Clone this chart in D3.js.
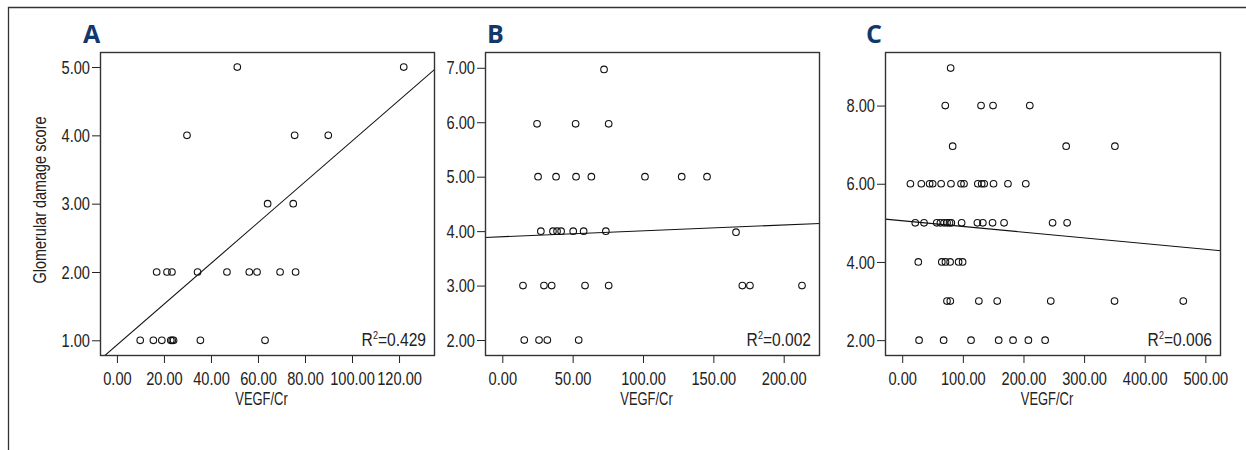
<!DOCTYPE html>
<html>
<head>
<meta charset="utf-8">
<script src="https://cdn.jsdelivr.net/npm/d3@7"></script>
<style>
  body { margin: 0; background: #fff; }
  svg { display: block; }
  .lbl, .tick text { font-family: 'Liberation Sans', Arial, sans-serif; font-size: 19px; fill: #222; }
  .letter { font-family: 'Open Sans', 'Liberation Sans', sans-serif; font-weight: 700; font-size: 25px; fill: #12386b; }
</style>
</head>
<body>
<svg width="1246" height="450"></svg>
<script>
/*eslint no-undef: 0*/

// panel A
const vegfA = [51.2, 122.0, 29.8, 75.6, 89.9, 64.1, 75.0,
  16.9, 21.3, 23.4, 34.3, 46.8, 56.3, 59.6, 69.4, 76.0,
  9.9, 15.5, 19.1, 22.9, 23.5, 24.1, 35.5, 63.0]
const scoreA = [5, 5, 4, 4, 4, 3, 3,
  2, 2, 2, 2, 2, 2, 2, 2, 2,
  1, 1, 1, 1, 1, 1, 1, 1]
const fitA = [0.931, 0.02985] // intercept, slope
const xTicksA = [0, 20, 40, 60, 80, 100, 120]
const yTicksA = [1, 2, 3, 4, 5]
const xDomainA = [-7.2, 135.3]
const yDomainA = [0.785, 5.22]

// panel B
const vegfB = [72.3, 24.7, 52.1, 75.6,
  25.4, 38.2, 52.4, 63.3, 101.4, 127.5, 145.5,
  27.4, 36.0, 38.9, 41.8, 50.4, 57.8, 73.6, 166.1,
  14.7, 29.6, 35.1, 58.8, 75.6, 170.6, 176.0, 213.0,
  15.6, 26.1, 32.0, 54.3]
const scoreB = [6.97, 5.97, 5.97, 5.97,
  5, 5, 5, 5, 5, 5, 5,
  4, 4, 4, 4, 4, 4, 4, 3.98,
  3, 3, 3, 3, 3, 3, 3, 3,
  2, 2, 2, 2]
const fitB = [3.897, 0.00108]
const xTicksB = [0, 50, 100, 150, 200]
const yTicksB = [2, 3, 4, 5, 6, 7]
const xDomainB = [-12.3, 225.8]
const yDomainB = [1.725, 7.29]

// panel C
const vegfC = [79.9,
  71.0, 130.0, 149.8, 210.4,
  83.2, 270.4, 350.8,
  13.5, 31.5, 45.2, 50.2, 64.2, 80.4, 97.0, 101.9, 124.7, 131.1, 135.2, 150.6, 174.4, 203.8,
  21.5, 36.0, 57.0, 63.0, 69.0, 74.0, 78.0, 81.0, 98.0, 124.0, 133.0, 149.0, 168.0, 248.0, 272.0,
  26.5, 65.3, 71.3, 79.0, 93.0, 99.6,
  73.8, 79.3, 126.4, 156.7, 245.0, 350.2, 463.6,
  27.8, 68.3, 113.5, 159.1, 182.8, 208.1, 235.7]
const scoreC = [8.96,
  8, 8, 8, 8,
  6.96, 6.96, 6.96,
  6, 6, 6, 6, 6, 6, 6, 6, 6, 6, 6, 6, 6, 6,
  5, 5, 5, 5, 5, 5, 5, 5, 5, 5, 5, 5, 5, 5, 5,
  4, 4, 4, 4, 4, 4,
  3, 3, 3, 3, 3, 3, 3,
  2, 2, 2, 2, 2, 2, 2]
const fitC = [5.055, -0.001462]
const xTicksC = [0, 100, 200, 300, 400, 500]
const yTicksC = [2, 4, 6, 8]
const xDomainC = [-28.4, 525.8]
const yDomainC = [1.62, 9.37]

const r2Labels = ['0.429', '0.002', '0.006']
const letters = ['A', 'B', 'C']

const svg = d3.select('svg')
const fmt = d3.format('.2f')
const boxTop = 52
const boxBottom = 355

// the original uses a condensed face, so squeeze the glyphs horizontally
function squeeze (sel, factor) {
  sel.each(function () {
    const w = this.getComputedTextLength()
    d3.select(this)
      .attr('textLength', w * factor)
      .attr('lengthAdjust', 'spacingAndGlyphs')
  })
}

// outer frame (top and left edges only)
svg.append('path')
  .attr('d', 'M8.5,450V7.5H1246')
  .attr('fill', 'none')
  .attr('stroke', '#333')
  .attr('stroke-width', 1.3)

function drawPanel (i, left, right, letterX, xs, ys, fit, xTicks, yTicks, xDomain, yDomain) {
  const width = right - left
  const height = boxBottom - boxTop
  const g = svg.append('g').attr('transform', 'translate(' + left + ',' + boxTop + ')')

  const x = d3.scaleLinear().domain(xDomain).range([0, width])
  const y = d3.scaleLinear().domain(yDomain).range([height, 0])

  const xAxis = g.append('g')
    .attr('transform', 'translate(0,' + height + ')')
    .call(d3.axisBottom(x).tickValues(xTicks).tickFormat(fmt).tickSize(8).tickPadding(9).tickSizeOuter(0))
  xAxis.select('.domain').remove()

  const yAxis = g.append('g')
    .call(d3.axisLeft(y).tickValues(yTicks).tickFormat(fmt).tickSize(8).tickPadding(2).tickSizeOuter(0))
  yAxis.select('.domain').remove()

  g.selectAll('.tick line').attr('stroke', '#222')
  squeeze(g.selectAll('.tick text'), 0.77)

  const clipId = 'clip' + i
  g.append('clipPath').attr('id', clipId)
    .append('rect').attr('width', width).attr('height', height)

  g.append('line')
    .attr('clip-path', 'url(#' + clipId + ')')
    .attr('x1', x(xDomain[0]))
    .attr('y1', y(fit[0] + fit[1] * xDomain[0]))
    .attr('x2', x(xDomain[1]))
    .attr('y2', y(fit[0] + fit[1] * xDomain[1]))
    .attr('stroke', '#111')
    .attr('stroke-width', 1.1)

  g.append('g')
    .selectAll('circle')
    .data(xs.map((d, k) => [d, ys[k]]))
    .enter().append('circle')
      .attr('cx', d => x(d[0]))
      .attr('cy', d => y(d[1]))
      .attr('r', 3.3)
      .attr('fill', 'none')
      .attr('stroke', '#111')
      .attr('stroke-width', 1.1)

  g.append('rect')
    .attr('x', 0.5)
    .attr('y', 0.5)
    .attr('width', width - 1)
    .attr('height', height)
    .attr('fill', 'none')
    .attr('stroke', '#333')
    .attr('stroke-width', 1.4)

  const r2 = g.append('text')
    .attr('class', 'lbl')
    .attr('x', width - 9)
    .attr('y', height - 9)
    .attr('text-anchor', 'end')
  r2.append('tspan').text('R')
  r2.append('tspan').attr('dy', -7).style('font-size', '11px').text('2')
  r2.append('tspan').attr('dy', 7).text('=' + r2Labels[i])
  squeeze(r2, 0.82)

  const title = g.append('text')
    .attr('class', 'lbl')
    .attr('x', width / 2 - 6)
    .attr('y', height + 50)
    .attr('text-anchor', 'middle')
    .text('VEGF/Cr')
  squeeze(title, 0.68)

  svg.append('text')
    .attr('class', 'letter')
    .attr('x', letterX)
    .attr('y', 43)
    .text(letters[i])
}

drawPanel(0, 100, 435, 83, vegfA, scoreA, fitA, xTicksA, yTicksA, xDomainA, yDomainA)
drawPanel(1, 485, 820, 487, vegfB, scoreB, fitB, xTicksB, yTicksB, xDomainB, yDomainB)
drawPanel(2, 885, 1221, 866, vegfC, scoreC, fitC, xTicksC, yTicksC, xDomainC, yDomainC)

const yTitle = svg.append('text')
  .attr('class', 'lbl')
  .attr('transform', 'translate(46,200) rotate(-90)')
  .attr('text-anchor', 'middle')
  .text('Glomerular damage score')
squeeze(yTitle, 0.76)
</script>
</body>
</html>
